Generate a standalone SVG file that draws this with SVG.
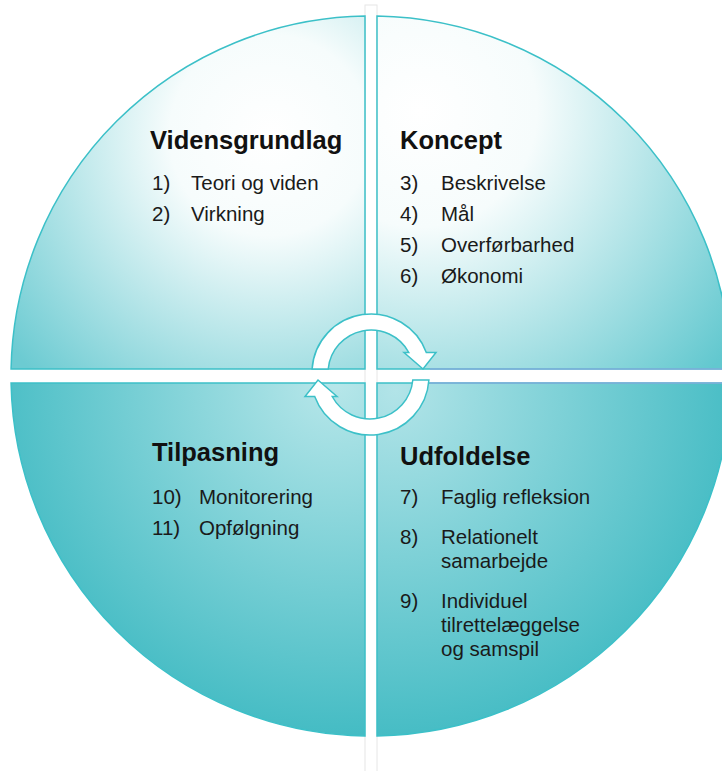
<svg xmlns="http://www.w3.org/2000/svg" xmlns:xlink="http://www.w3.org/1999/xlink" width="722" height="771" viewBox="0 0 722 771">
<style>
.q{stroke:#3cc0c8;stroke-width:1.5}
.t{font-family:"Liberation Sans",Arial,sans-serif;font-size:25.5px;font-weight:bold;fill:#111}
.i{font-family:"Liberation Sans",Arial,sans-serif;font-size:20.5px;fill:#1a1a1a}
.arr{fill:#fff;stroke:#3cc0c8;stroke-width:1.5;stroke-linejoin:miter}
.blue{stroke:#86aedb;stroke-width:1.5}
</style>
<defs>
<radialGradient id="gTL" gradientUnits="userSpaceOnUse" cx="270" cy="135" r="335">
<stop offset="0" stop-color="#ffffff"/><stop offset="0.3" stop-color="#f6fcfc"/><stop offset="1" stop-color="#6ccbd2"/>
</radialGradient>
<radialGradient id="gTR" gradientUnits="userSpaceOnUse" cx="420" cy="110" r="390">
<stop offset="0" stop-color="#ffffff"/><stop offset="0.3" stop-color="#f6fcfc"/><stop offset="1" stop-color="#62c8cf"/>
</radialGradient>
<radialGradient id="gBL" gradientUnits="userSpaceOnUse" cx="335" cy="380" r="420">
<stop offset="0" stop-color="#b8e7ea"/><stop offset="1" stop-color="#2fb4bd"/>
</radialGradient>
<radialGradient id="gBR" gradientUnits="userSpaceOnUse" cx="395" cy="390" r="420">
<stop offset="0" stop-color="#b2e4e8"/><stop offset="1" stop-color="#2fb4bd"/>
</radialGradient>
<path id="arrow" class="arr" d="M312.1,369 A59,59 0 0 1 426.3,352.5 L436,352.5 L423,369 L404,352.5 L408.8,352.5 A43,43 0 0 0 328.2,369 Z"/>
</defs>
<rect width="722" height="771" fill="#fff"/>
<rect x="365" y="5" width="12" height="780" fill="none" stroke="#e6e6e6" stroke-width="1"/>

<g id="vidensgrundlag">
<path class="q" fill="url(#gTL)" d="M365,369 L365,16.05 A360,360 0 0 0 11.07,369 Z"/>
<text class="t" x="150" y="149">Vidensgrundlag</text>
<text class="i" x="152" y="190">1)</text><text class="i" x="191" y="190">Teori og viden</text>
<text class="i" x="152" y="221">2)</text><text class="i" x="191" y="221">Virkning</text>
</g>

<g id="koncept">
<path class="q" fill="url(#gTR)" d="M377,369 L377,16.05 A360,360 0 0 1 730.93,369 Z"/>
<line class="blue" x1="430" y1="369" x2="722" y2="369"/>
<text class="t" x="400" y="149">Koncept</text>
<text class="i" x="400" y="190">3)</text><text class="i" x="441" y="190">Beskrivelse</text>
<text class="i" x="400" y="221">4)</text><text class="i" x="441" y="221">Mål</text>
<text class="i" x="400" y="252">5)</text><text class="i" x="441" y="252">Overførbarhed</text>
<text class="i" x="400" y="283">6)</text><text class="i" x="441" y="283">Økonomi</text>
</g>

<g id="tilpasning">
<path class="q" fill="url(#gBL)" d="M365,383 L11.07,383 A360,360 0 0 0 365,735.95 Z"/>
<text class="t" x="152" y="461">Tilpasning</text>
<text class="i" x="152" y="504">10)</text><text class="i" x="199" y="504">Monitorering</text>
<text class="i" x="152" y="535">11)</text><text class="i" x="199" y="535">Opfølgning</text>
</g>

<g id="udfoldelse">
<path class="q" fill="url(#gBR)" d="M377,383 L730.93,383 A360,360 0 0 1 377,735.95 Z"/>
<line class="blue" x1="430" y1="383" x2="722" y2="383"/>
<text class="t" x="400" y="465">Udfoldelse</text>
<text class="i" x="400" y="504">7)</text><text class="i" x="441" y="504">Faglig refleksion</text>
<text class="i" x="400" y="544">8)</text><text class="i" x="441" y="544">Relationelt</text>
<text class="i" x="441" y="568">samarbejde</text>
<text class="i" x="400" y="608">9)</text><text class="i" x="441" y="608">Individuel</text>
<text class="i" x="441" y="632">tilrettelæggelse</text>
<text class="i" x="441" y="656">og samspil</text>
</g>

<g id="connectors">
<use xlink:href="#arrow"/>
<use xlink:href="#arrow" transform="rotate(180 370.5 374.5)"/>
</g>
</svg>
